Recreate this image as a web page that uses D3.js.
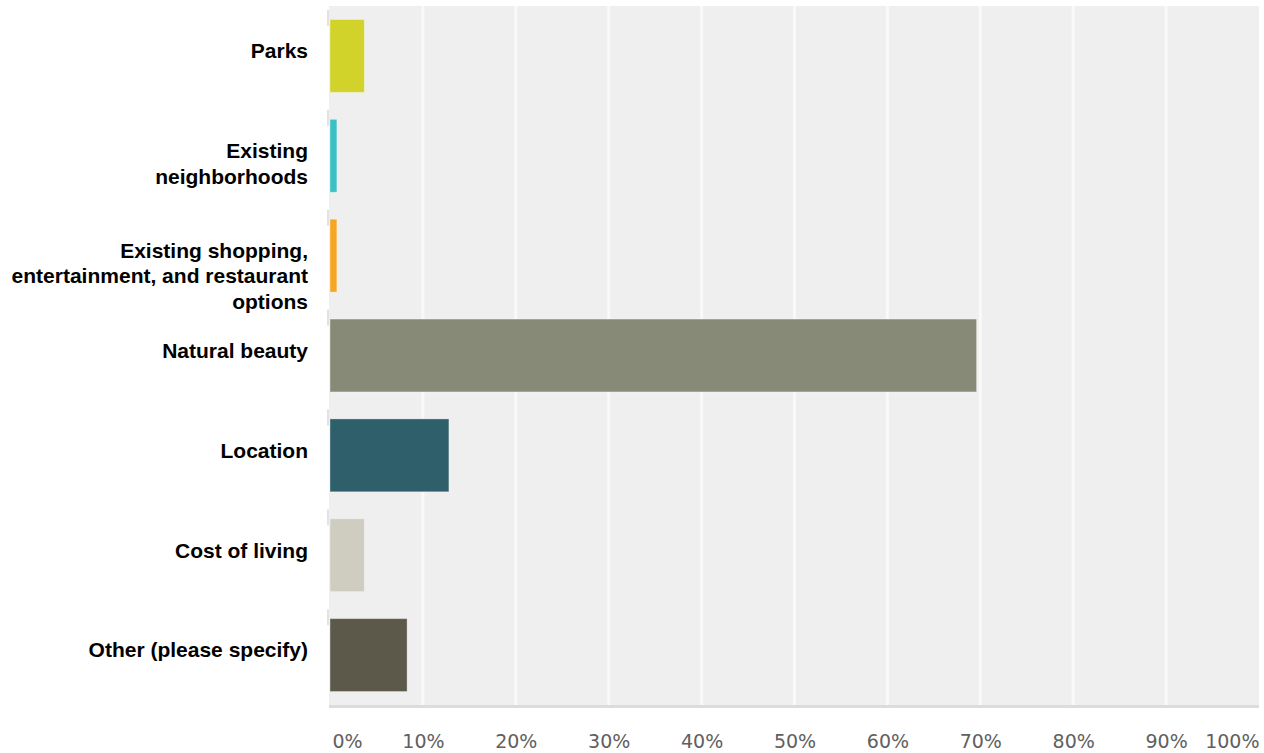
<!DOCTYPE html>
<html><head><meta charset="utf-8">
<script src="https://cdn.jsdelivr.net/npm/d3@7"></script>
<style>
html,body{margin:0;padding:0;background:#fff;}
svg{display:block;}
</style></head>
<body>
<svg id="chart" width="1264" height="753"></svg>
<script>
const categories = [
  ["Parks"],
  ["Existing", "neighborhoods"],
  ["Existing shopping,", "entertainment, and restaurant", "options"],
  ["Natural beauty"],
  ["Location"],
  ["Cost of living"],
  ["Other (please specify)"]
];
const values = [3.7, 0.74, 0.74, 69.6, 12.8, 3.7, 8.3];
const colors = ["#d1d32a", "#3bc0c3", "#f6a623", "#888a78", "#2e5f6b", "#cfcdbf", "#5c594a"];
const tickValues = [0, 10, 20, 30, 40, 50, 60, 70, 80, 90, 100];
const tickLabels = ["0%", "10%", "20%", "30%", "40%", "50%", "60%", "70%", "80%", "90%", "100%"];

const svg = d3.select("#chart");
const mLeft = 330, mRight = 1259, mTop = 6, mBottom = 705;
const x = d3.scaleLinear().domain([0, 100]).range([mLeft, mRight]);
const y = d3.scaleBand().domain(d3.range(categories.length)).range([mTop, mBottom]).paddingInner(0.27).paddingOuter(0.135);

// plot background
svg.append("rect").attr("x", mLeft - 1).attr("y", mTop).attr("width", mRight - mLeft + 1).attr("height", mBottom - mTop)
  .attr("fill", "#efefef");
// bottom border
svg.append("rect").attr("x", mLeft - 1).attr("y", mBottom).attr("width", mRight - mLeft + 1).attr("height", 3)
  .attr("fill", "#dcdcdc");

// gridlines
svg.append("g").selectAll("line").data(tickValues.slice(1, -1)).join("line")
  .attr("x1", d => x(d)).attr("x2", d => x(d)).attr("y1", mTop).attr("y2", mBottom)
  .attr("stroke", "#f9f9f9").attr("stroke-width", 3);

// small left marks
const step = y.step();
svg.append("g").selectAll("rect").data(d3.range(categories.length)).join("rect")
  .attr("x", mLeft - 3).attr("width", 2)
  .attr("y", d => y(d) - step * 0.135 + 4).attr("height", 16)
  .attr("fill", "#e2e2e2");

// bars
svg.append("g").selectAll("rect").data(values).join("rect")
  .attr("x", x(0)).attr("y", (d, i) => y(i))
  .attr("width", d => x(d) - x(0)).attr("height", y.bandwidth())
  .attr("fill", (d, i) => colors[i])
  .attr("stroke", "rgba(255,255,255,0.35)").attr("stroke-width", 1);

// x tick labels
const xAxis = d3.axisBottom(x).tickValues(tickValues).tickFormat((d, i) => tickLabels[i]).tickSize(0).tickPadding(0);
const gx = svg.append("g").attr("transform", `translate(0,${mBottom + 29})`).call(xAxis);
gx.select(".domain").remove();
gx.selectAll("text")
  .attr("font-family", "'DejaVu Sans', Verdana, sans-serif").attr("font-size", 19).attr("fill", "#606060")
  .attr("dy", "0.71em")
  .attr("text-anchor", (d, i) => i === 0 ? "start" : (i === tickValues.length - 1 ? "end" : "middle"))
  .attr("dx", (d, i) => i === 0 ? 2 : 0);

// category labels
const lh = 25.5;
const gy = svg.append("g");
categories.forEach((lines, i) => {
  const cy = y(i) + y.bandwidth() / 2 - 5;
  const t = gy.append("text").attr("x", 308).attr("text-anchor", "end")
    .attr("font-family", "'Liberation Sans', Arial, sans-serif").attr("font-weight", "bold")
    .attr("font-size", 21).attr("fill", "#000");
  lines.forEach((ln, j) => {
    t.append("tspan").attr("x", 308)
      .attr("y", cy + j * lh)
      .attr("dy", "0.35em").text(ln);
  });
});
</script>
</body></html>
